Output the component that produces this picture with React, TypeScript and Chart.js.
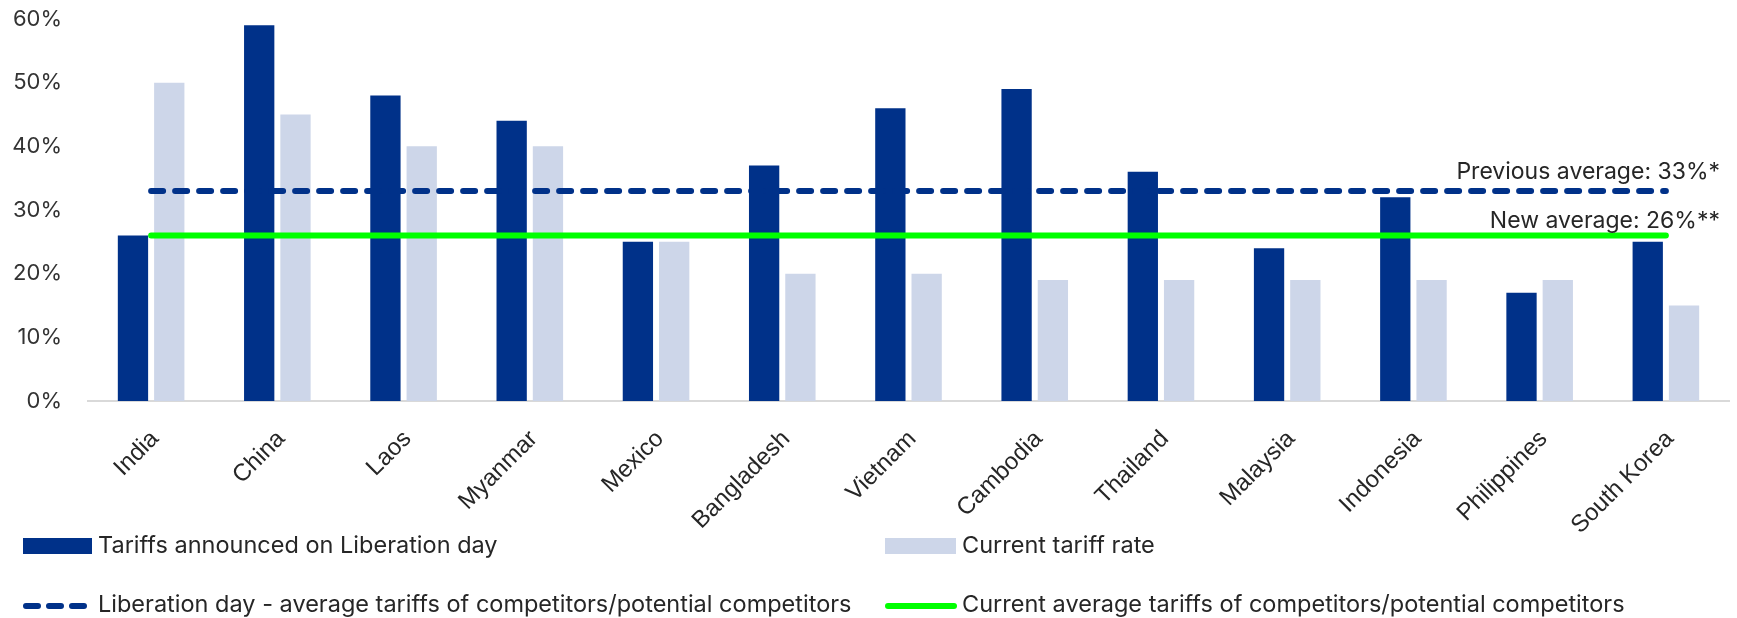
import React, { useEffect, useRef } from "react";
import { Chart, registerables } from "chart.js";

Chart.register(...registerables);

const categories = [
  "India", "China", "Laos", "Myanmar", "Mexico", "Bangladesh", "Vietnam",
  "Cambodia", "Thailand", "Malaysia", "Indonesia", "Philippines", "South Korea",
];
const liberationDayTariffs = [26, 59, 48, 44, 25, 37, 46, 49, 36, 24, 32, 17, 25];
const currentTariffs = [50, 45, 40, 40, 25, 20, 20, 19, 19, 19, 19, 19, 15];
const liberationAverage = [33, 33, 33, 33, 33, 33, 33, 33, 33, 33, 33, 33, 33];
const currentAverage = [26, 26, 26, 26, 26, 26, 26, 26, 26, 26, 26, 26, 26];
const yTickValues = [0, 10, 20, 30, 40, 50, 60];
const seriesLabels = [
  "Tariffs announced on Liberation day",
  "Current tariff rate",
  "Liberation day - average tariffs of competitors/potential competitors",
  "Current average tariffs of competitors/potential competitors",
];
const averageNotes = ["Previous average: 33%*", "New average: 26%**"];

const DARK = "#003189";
const LIGHT = "#CDD6E9";
const GREEN = "#00FF00";
const TEXT = "#262626";
const UI_FONT = "Inter, 'Noto Sans', sans-serif";
const AXIS_FONT = "'Liberation Sans', Arial, sans-serif";

const overlayPlugin = {
  id: "overlay",
  afterDraw(chart: any) {
    const { ctx, chartArea, scales } = chart;
    const y = scales.y;
    ctx.save();
    // average annotations
    ctx.font = `23px ${UI_FONT}`;
    ctx.fillStyle = TEXT;
    ctx.textAlign = "right";
    ctx.textBaseline = "alphabetic";
    ctx.fillText(averageNotes[0], chartArea.right - 9, y.getPixelForValue(liberationAverage[0]) - 12);
    ctx.fillText(averageNotes[1], chartArea.right - 9, y.getPixelForValue(currentAverage[0]) - 7);

    // legend
    ctx.textAlign = "left";
    ctx.font = `23.5px ${UI_FONT}`;
    const col1 = 23;
    const col2 = 885;
    const row1 = 546;
    const row2 = 606;
    ctx.fillStyle = DARK;
    ctx.fillRect(col1, row1 - 8, 69, 16);
    ctx.fillStyle = LIGHT;
    ctx.fillRect(col2, row1 - 8, 71, 16);
    ctx.strokeStyle = DARK;
    ctx.lineWidth = 6;
    ctx.lineCap = "round";
    ctx.setLineDash([12, 11]);
    ctx.beginPath();
    ctx.moveTo(col1 + 3, row2);
    ctx.lineTo(col1 + 63, row2);
    ctx.stroke();
    ctx.setLineDash([]);
    ctx.strokeStyle = GREEN;
    ctx.beginPath();
    ctx.moveTo(col2 + 3, row2);
    ctx.lineTo(col2 + 69, row2);
    ctx.stroke();
    ctx.fillStyle = TEXT;
    ctx.fillText(seriesLabels[0], col1 + 75, row1 + 7);
    ctx.fillText(seriesLabels[1], col2 + 77, row1 + 7);
    ctx.fillText(seriesLabels[2], col1 + 75, row2 + 6);
    ctx.fillText(seriesLabels[3], col2 + 77, row2 + 6);
    ctx.restore();
  },
};

export default function App() {
  const canvasRef = useRef<HTMLCanvasElement | null>(null);

  useEffect(() => {
    if (!canvasRef.current) return;
    const chart = new Chart(canvasRef.current, {
      type: "bar",
      data: {
        labels: categories,
        datasets: [
          {
            type: "line",
            label: seriesLabels[2],
            data: liberationAverage,
            borderColor: DARK,
            borderWidth: 6,
            borderDash: [12, 12],
            borderCapStyle: "round",
            pointRadius: 0,
            tension: 0,
            order: 0,
          } as any,
          {
            type: "line",
            label: seriesLabels[3],
            data: currentAverage,
            borderColor: GREEN,
            borderWidth: 6,
            borderCapStyle: "round",
            pointRadius: 0,
            tension: 0,
            order: 0,
          } as any,
          {
            type: "bar",
            label: seriesLabels[0],
            data: liberationDayTariffs,
            backgroundColor: DARK,
            categoryPercentage: 0.575,
            barPercentage: 0.835,
            order: 1,
          },
          {
            type: "bar",
            label: seriesLabels[1],
            data: currentTariffs,
            backgroundColor: LIGHT,
            categoryPercentage: 0.575,
            barPercentage: 0.835,
            order: 1,
          },
        ],
      },
      options: {
        responsive: false,
        animation: false,
        devicePixelRatio: 1,
        layout: { padding: { top: 19, right: 8, left: 0, bottom: 0 } },
        plugins: {
          legend: { display: false },
          tooltip: { enabled: false },
        },
        scales: {
          x: {
            grid: { display: false, drawTicks: false },
            border: { display: true, color: "#D9D9D9", width: 2 },
            ticks: {
              autoSkip: false,
              minRotation: 45,
              maxRotation: 45,
              padding: 24,
              labelOffset: 4,
              color: TEXT,
              font: { family: AXIS_FONT, size: 24 },
            },
            afterFit: (scale: any) => {
              scale.height = 217;
            },
          },
          y: {
            min: 0,
            max: 60,
            grid: { display: false, drawTicks: false },
            border: { display: false },
            afterBuildTicks: (scale: any) => {
              scale.ticks = yTickValues.map((v) => ({ value: v }));
            },
            ticks: {
              padding: 26,
              color: "#333333",
              font: { family: UI_FONT, size: 22 },
              callback: (v: any) => `${v}%`,
            },
            afterFit: (scale: any) => {
              scale.width = 88;
              scale.paddingTop = 13;
              scale.paddingBottom = 13;
            },
          },
        },
      },
      plugins: [overlayPlugin],
    });
    return () => chart.destroy();
  }, []);

  return (
    <div style={{ position: "absolute", left: 0, top: 0, width: 1737, height: 618, background: "#fff" }}>
      <canvas ref={canvasRef} width={1737} height={618} style={{ display: "block" }} />
    </div>
  );
}
